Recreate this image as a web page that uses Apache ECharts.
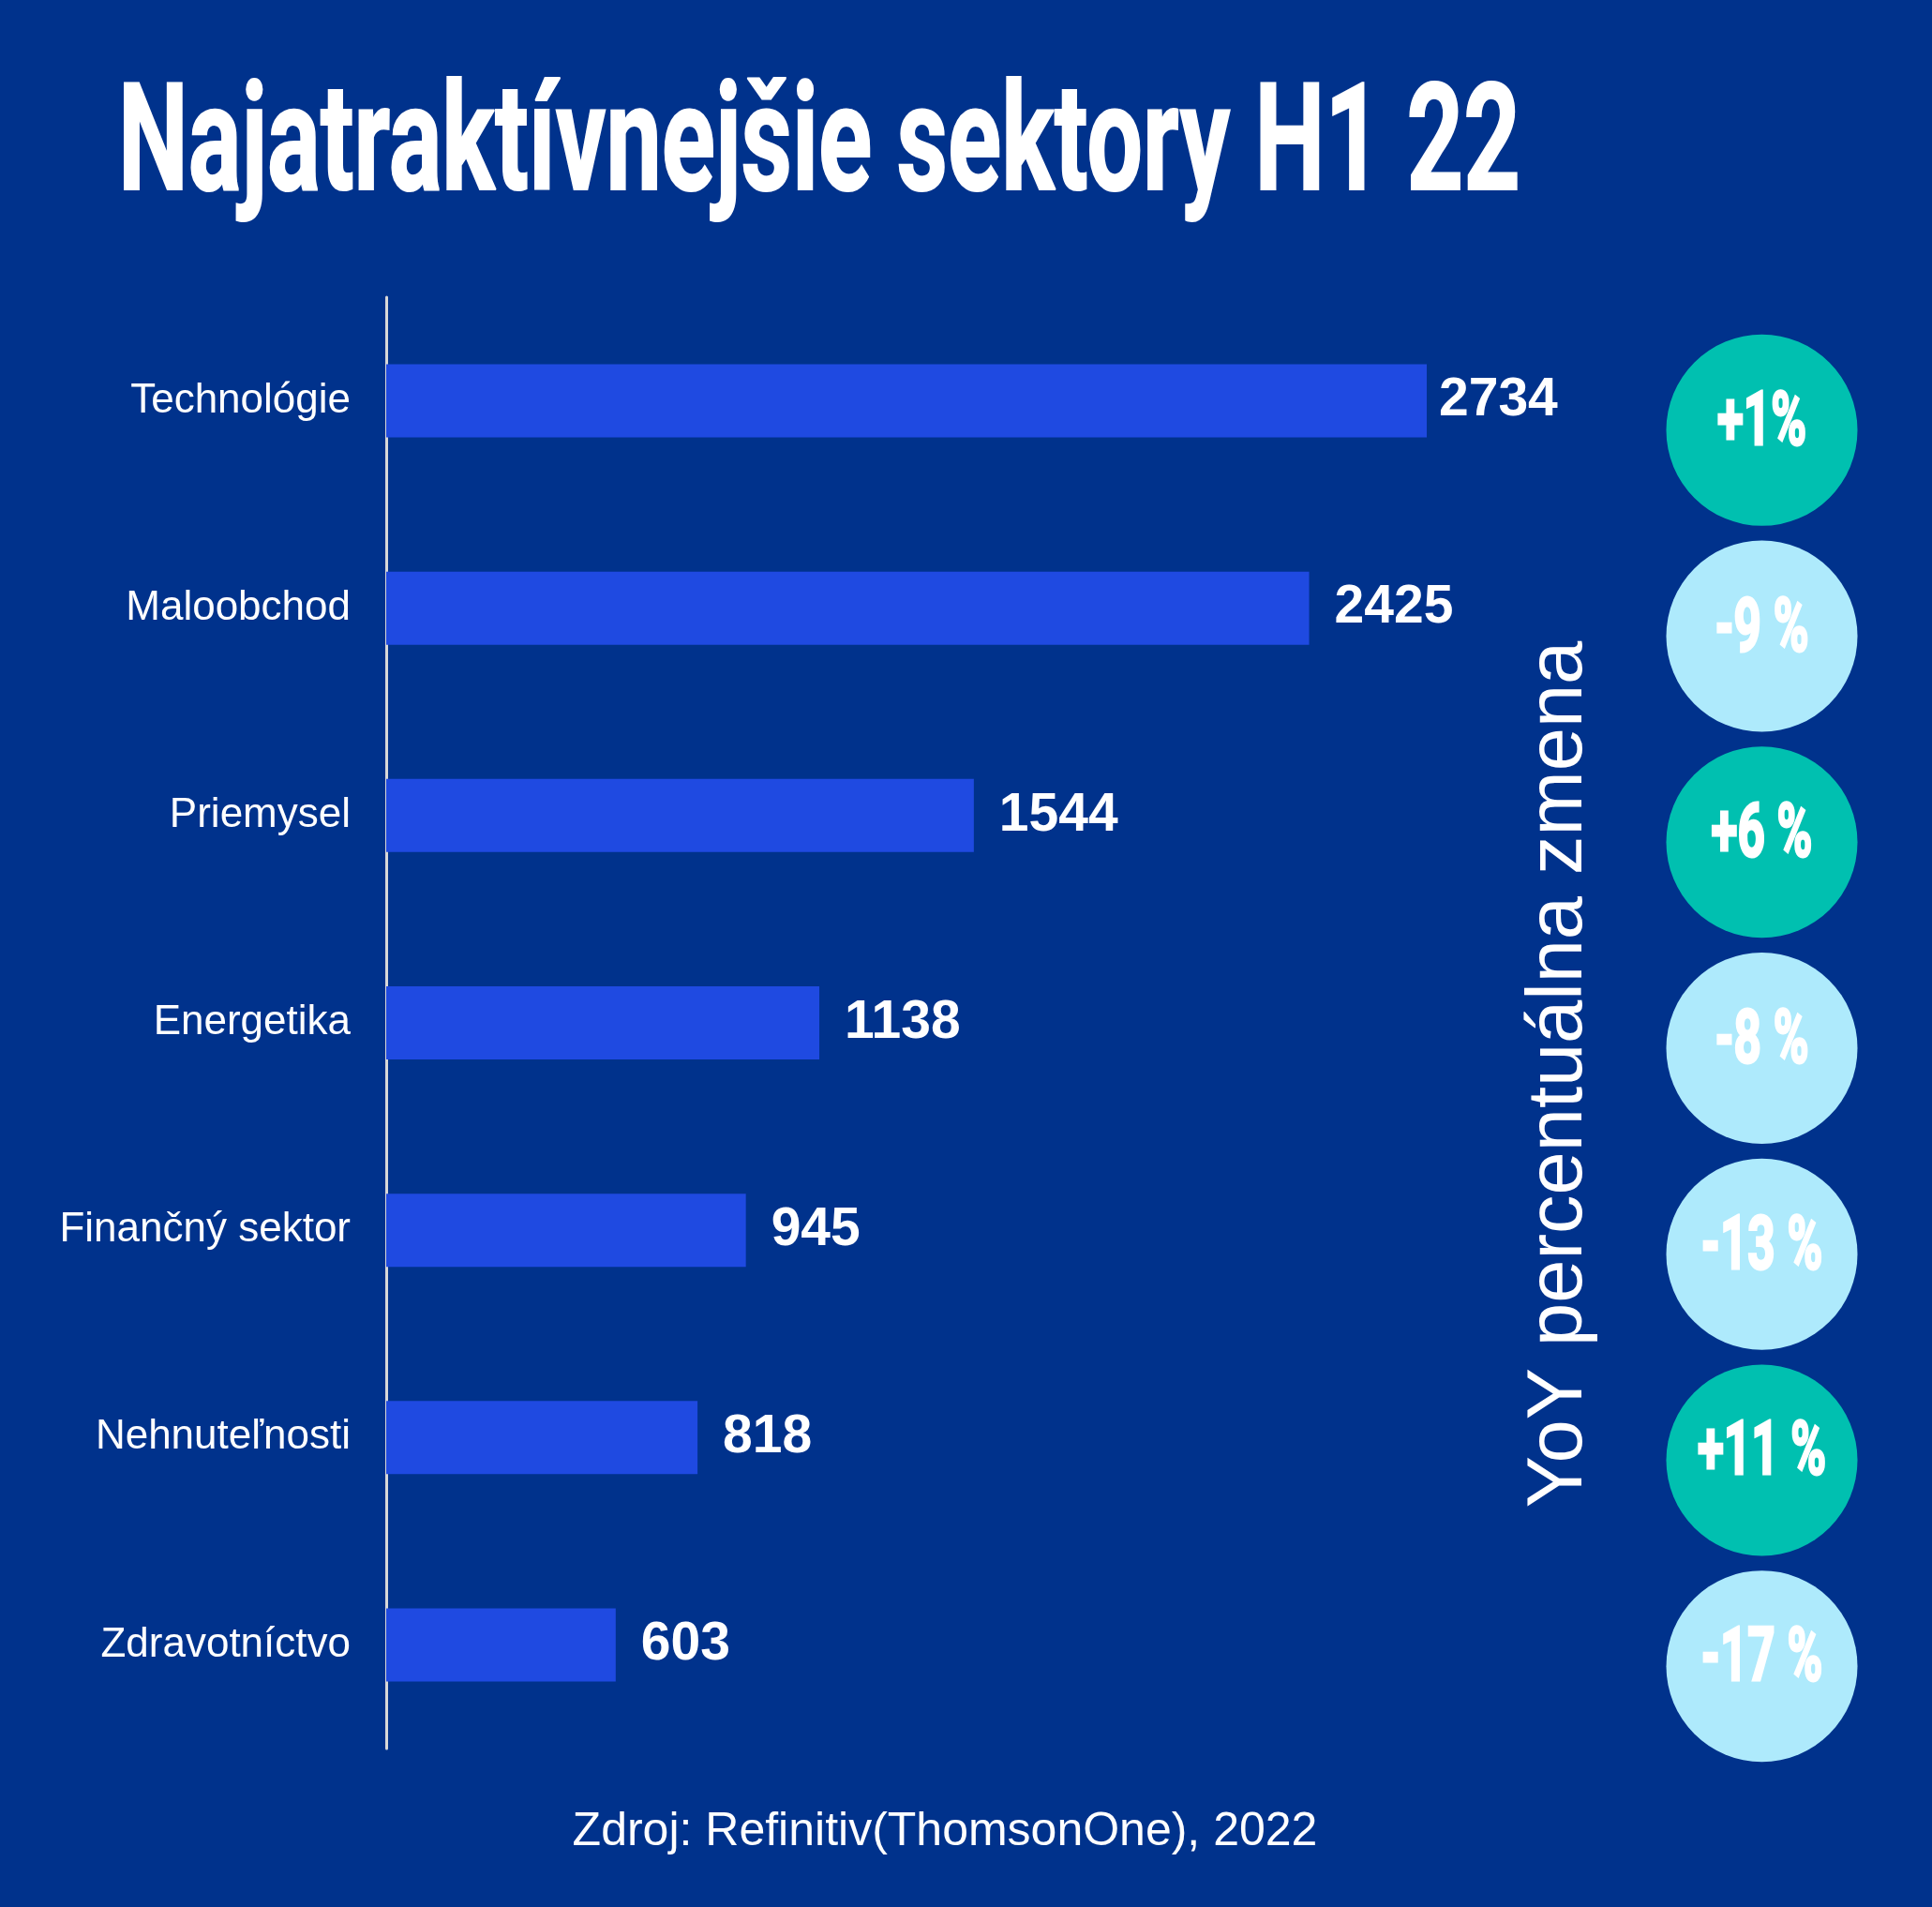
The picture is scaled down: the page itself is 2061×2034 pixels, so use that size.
<!DOCTYPE html>
<html>
<head>
<meta charset="utf-8">
<title>Najatraktívnejšie sektory H1 22</title>
<script src="https://cdn.jsdelivr.net/npm/echarts@6/dist/echarts.min.js"></script>
<style>
    html, body { margin: 0; padding: 0; background: #00328c; }
    #chart { width: 2061px; height: 2034px; }
</style>
</head>
<body>
<div id="chart"></div>
<script>
var sectors = ['Technológie', 'Maloobchod', 'Priemysel', 'Energetika', 'Finančný sektor', 'Nehnuteľnosti', 'Zdravotníctvo'];
var deals = [2734, 2425, 1544, 1138, 945, 818, 603];
var yoyChange = [1, -9, 6, -8, -13, 11, -17];
var yoyLabels = ['+1%', '-9 %', '+6 %', '-8 %', '-13 %', '+11 %', '-17 %'];

var titleText = 'Najatraktívnejšie sektory H1 22';
var sourceText = 'Zdroj: Refinitiv(ThomsonOne), 2022';
var sideText = 'YoY percentuálna zmena';

// squeeze a normal bold font to look like the condensed headline face
function squeeze(text, font, targetWidth) {
    var ctx = document.createElement('canvas').getContext('2d');
    ctx.font = font;
    return targetWidth / ctx.measureText(text).width;
}
var titleFont = 'bold 160px Roboto';
var titleScale = squeeze(titleText, titleFont, 1496);

var chart = echarts.init(document.getElementById('chart'));

var barData = deals.map(function (v, i) {
    // the top label sits closer to its bar in the original
    return i === 0 ? { value: v, label: { distance: 13 } } : v;
});

var circleData = yoyChange.map(function (v, i) {
    return [0.5, i, v];
});

var option = {
    backgroundColor: '#00328c',
    animation: false,
    grid: [
        { left: 412, top: 317, width: 1218, height: 1548 },
        { left: 1777, top: 349, width: 205, height: 1538 }
    ],
    xAxis: [
        { type: 'value', gridIndex: 0, min: 0, max: 3000, show: false },
        { type: 'value', gridIndex: 1, min: 0, max: 1, show: false }
    ],
    yAxis: [
        {
            type: 'category',
            gridIndex: 0,
            data: sectors,
            inverse: true,
            axisLine: { show: true, lineStyle: { color: '#d8d8d8', width: 3 } },
            axisTick: { show: false },
            splitLine: { show: false },
            axisLabel: {
                color: '#ffffff',
                fontSize: 44,
                fontFamily: 'Liberation Sans, Arial, sans-serif',
                margin: 38
            }
        },
        {
            type: 'category',
            gridIndex: 1,
            data: sectors,
            inverse: true,
            show: false
        }
    ],
    series: [
        {
            name: 'Počet transakcií',
            type: 'bar',
            xAxisIndex: 0,
            yAxisIndex: 0,
            data: barData,
            barWidth: 78,
            itemStyle: { color: '#1f4ae1' },
            label: {
                show: true,
                position: 'right',
                distance: 27,
                color: '#ffffff',
                fontSize: 57,
                fontWeight: 'bold',
                fontFamily: 'Liberation Sans, Arial, sans-serif'
            }
        },
        {
            name: 'YoY',
            type: 'custom',
            xAxisIndex: 1,
            yAxisIndex: 1,
            data: circleData,
            renderItem: function (params, api) {
                var pt = api.coord([api.value(0), api.value(1)]);
                var up = api.value(2) > 0;
                return {
                    type: 'group',
                    children: [
                        {
                            type: 'circle',
                            shape: { cx: pt[0], cy: pt[1], r: 102 },
                            style: { fill: up ? '#00c0b0' : '#aeeafc' }
                        },
                        {
                            type: 'text',
                            x: pt[0],
                            y: pt[1] - 5,
                            scaleX: 0.64,
                            style: {
                                text: yoyLabels[params.dataIndex],
                                fill: '#ffffff',
                                stroke: '#ffffff',
                                lineWidth: 3,
                                font: 'bold 80px Roboto',
                                align: 'center',
                                verticalAlign: 'middle'
                            }
                        }
                    ]
                };
            }
        }
    ],
    graphic: [
        {
            type: 'text',
            x: 126,
            y: 162,
            scaleX: titleScale,
            style: {
                text: titleText,
                fill: '#ffffff',
                stroke: '#ffffff',
                lineWidth: 2,
                font: titleFont,
                align: 'left',
                verticalAlign: 'middle'
            }
        },
        {
            type: 'text',
            x: 1664,
            y: 1146,
            rotation: Math.PI / 2,
            style: {
                text: sideText,
                fill: '#ffffff',
                font: '83px "Liberation Sans", Arial, sans-serif',
                align: 'center',
                verticalAlign: 'middle'
            }
        },
        {
            type: 'text',
            x: 1008,
            y: 1954,
            style: {
                text: sourceText,
                fill: '#ffffff',
                font: '50px "Liberation Sans", Arial, sans-serif',
                align: 'center',
                verticalAlign: 'middle'
            }
        }
    ]
};

chart.setOption(option);
</script>
</body>
</html>
